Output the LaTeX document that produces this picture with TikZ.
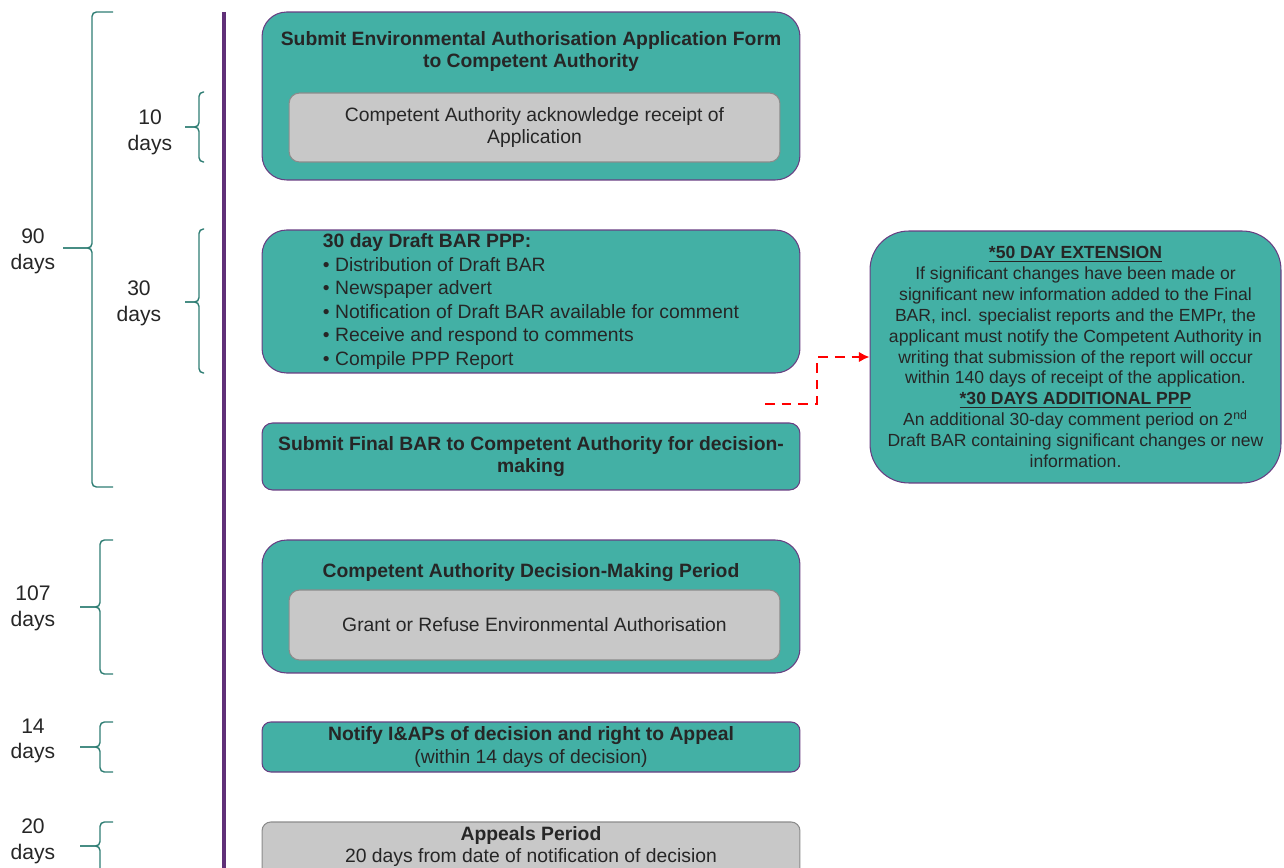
\documentclass[tikz,border=0pt]{standalone}
\usepackage{fontspec}
\setmainfont{Liberation Sans}
\usetikzlibrary{arrows.meta,positioning}
\definecolor{stepteal}{RGB}{67,176,165}
\definecolor{framepurple}{RGB}{104,62,130}
\definecolor{innergray}{RGB}{200,200,200}
\definecolor{innerframe}{RGB}{140,140,140}
\definecolor{bracegreen}{RGB}{46,125,115}
\definecolor{timelinepurple}{RGB}{96,48,120}
\definecolor{inkgray}{RGB}{38,38,38}
\begin{document}
\begin{tikzpicture}[x=0.02cm, y=-0.02cm,
  stage/.style={draw=framepurple, fill=stepteal, line width=0.6pt,
    minimum width=10.76cm, inner sep=0pt, align=center, text=inkgray,
    font=\fontsize{11}{13}\selectfont},
  inbox/.style={draw=innerframe, fill=innergray, line width=0.6pt,
    rounded corners=6pt, minimum width=9.82cm, inner sep=0pt,
    align=center, text=inkgray, font=\fontsize{11}{13}\selectfont},
  titletext/.style={align=center, text=inkgray, inner sep=0pt,
    font=\bfseries\fontsize{11}{13}\selectfont},
  steptext/.style={align=center, text=inkgray, inner sep=0pt,
    font=\fontsize{11}{13}\selectfont},
  dayslabel/.style={align=center, text=inkgray, inner sep=0pt,
    font=\fontsize{12}{14.7}\selectfont},
  bracket/.style={draw=bracegreen, line width=0.8pt, rounded corners=2.5pt},
  timeline/.style={draw=timelinepurple, line width=2.3pt},
  extarrow/.style={draw=red, line width=1.4pt, dash pattern=on 5.5pt off 4pt,
    -{Latex[length=6pt,width=6pt]}}]
  \useasboundingbox (0,0) rectangle (1284,868);

  % time line
  \coordinate (tltop) at (224,12);
  \coordinate (tlbot) at (224,868);
  \draw[timeline] (tltop) -- (tlbot);

  % brackets for the periods
  \foreach \xe/\xb/\xt/\yt/\ym/\yb in {113/92/63/12/248/487,
      204/199/185/92/127/162, 204/199/185/229/302/373,
      113/100/80/540/607/674, 113/100/80/722/747/772,
      113/100/80/822/846/900}
  {
    \draw[bracket] (\xe,\yt) -- (\xb,\yt) -- (\xb,\ym) -- (\xt,\ym);
    \draw[bracket] (\xe,\yb) -- (\xb,\yb) -- (\xb,\ym) -- (\xt,\ym);
  }
  \foreach \nm/\lx/\ly/\num in {d90/33/251/90, d10/150/132/10,
      d30/139/303/30, d107/33/608/107, d14/33/741/14, d20/33/841/20}
    \node[dayslabel] (\nm) at (\lx,\ly) {\num\\days};

  % steps
  \node[stage, rounded corners=14pt, minimum height=3.36cm] (submit) at (531,96) {};
  \node[titletext] (submittitle) at (531,51.5)
    {Submit Environmental Authorisation Application Form\\to Competent Authority};
  \node[inbox, minimum height=1.38cm] (receipt) at (534.5,127.5)
    {Competent Authority acknowledge receipt of\\Application};

  \node[stage, rounded corners=14pt, minimum height=2.86cm, align=left,
    font=\fontsize{11}{13.4}\selectfont] (draftppp) at (531,301.5)
    {\textbf{30 day Draft BAR PPP:}\\
     \textbullet\ Distribution of Draft BAR\\
     \textbullet\ Newspaper advert\\
     \textbullet\ Notification of Draft BAR available for comment\\
     \textbullet\ Receive and respond to comments\\
     \textbullet\ Compile PPP Report};

  \node[stage, rounded corners=6pt, minimum height=1.34cm,
    font=\bfseries\fontsize{11}{13}\selectfont] (finalbar) at (531,456.5)
    {Submit Final BAR to Competent Authority for decision-\\making};

  \node[stage, rounded corners=14pt, minimum height=2.66cm] (decision) at (531,606.5) {};
  \node[titletext] (decisiontitle) at (531,573)
    {Competent Authority Decision-Making Period};
  \node[inbox, minimum height=1.4cm] (grant) at (534.5,625)
    {Grant or Refuse Environmental Authorisation};

  \node[stage, rounded corners=5pt, minimum height=1cm] (notify) at (531,747)
    {\textbf{Notify I\&APs of decision and right to Appeal}\\(within 14 days of decision)};

  \node[inbox, rounded corners=5pt, minimum width=10.76cm, minimum height=1.16cm]
    (appeals) at (531,851) {};
  \node[steptext] (appealstxt) at (531,846.5)
    {\textbf{Appeals Period}\\20 days from date of notification of decision};

  % extension note
  \node[stage, rounded corners=22pt, minimum width=8.22cm, minimum height=5.04cm,
    font=\fontsize{10}{11.9}\selectfont] (extension) at (1075.5,357)
    {\textbf{\underline{*50 DAY EXTENSION}}\\
     If significant changes have been made or\\
     significant new information added to the Final\\
     BAR, incl. specialist reports and the EMPr, the\\
     applicant must notify the Competent Authority in\\
     writing that submission of the report will occur\\
     within 140 days of receipt of the application.\\
     \textbf{\underline{*30 DAYS ADDITIONAL PPP}}\\
     An additional 30-day comment period on 2\textsuperscript{nd}\\
     Draft BAR containing significant changes or new\\
     information.};

  \coordinate (redstart) at (765,404);
  \draw[extarrow] (redstart) -- ++(52,0) |- (extension.west);
\end{tikzpicture}
\end{document}
